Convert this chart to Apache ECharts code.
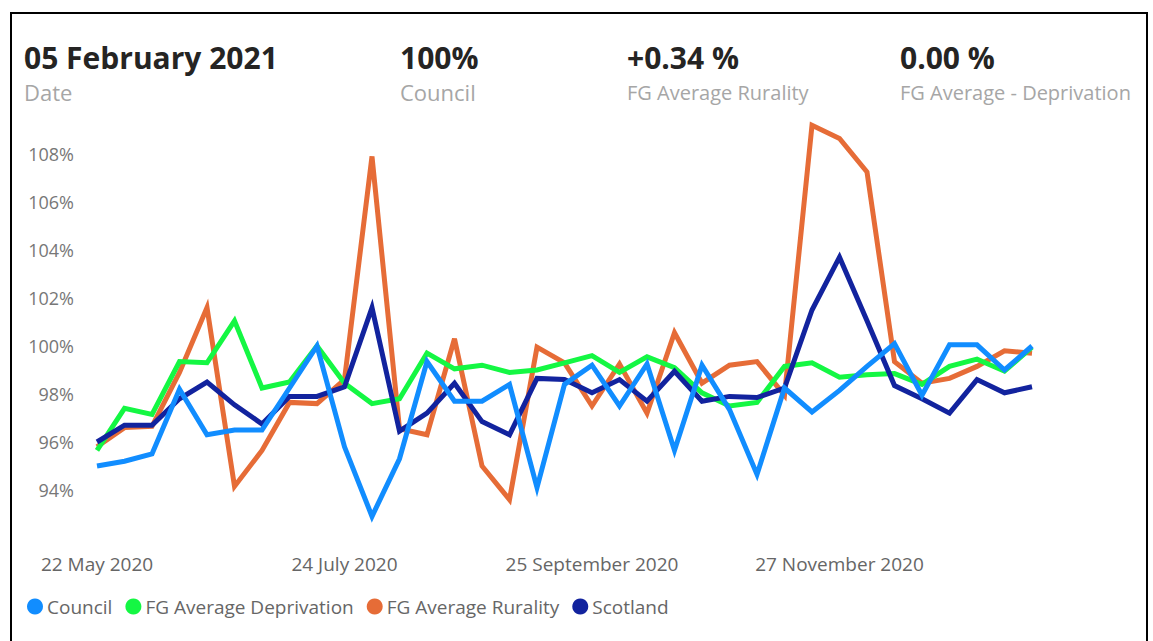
<!DOCTYPE html>
<html>
<head>
<meta charset="utf-8">
<script src="https://cdn.jsdelivr.net/npm/echarts@6/dist/echarts.min.js"></script>
<style>
  html, body { margin: 0; padding: 0; background: #fff; }
  #frame { position: absolute; left: 10px; top: 12px; width: 1134px; height: 640px; border: 2px solid #000; border-bottom: none; }
  #trend { position: absolute; left: 0; top: 0; width: 1153px; height: 641px; }
</style>
</head>
<body>
<div id="frame"></div>
<div id="trend"></div>
<script>
// weekly dates
const weeks = [
  '22 May 2020', '29 May 2020', '05 June 2020', '12 June 2020', '19 June 2020', '26 June 2020',
  '03 July 2020', '10 July 2020', '17 July 2020', '24 July 2020', '31 July 2020',
  '07 August 2020', '14 August 2020', '21 August 2020', '28 August 2020',
  '04 September 2020', '11 September 2020', '18 September 2020', '25 September 2020',
  '02 October 2020', '09 October 2020', '16 October 2020', '23 October 2020', '30 October 2020',
  '06 November 2020', '13 November 2020', '20 November 2020', '27 November 2020',
  '04 December 2020', '11 December 2020', '18 December 2020',
  '15 January 2021', '22 January 2021', '29 January 2021', '05 February 2021'
];

// values in %
const council = [95.0, 95.2, 95.5, 98.2, 96.3, 96.5, 96.5, 98.25, 100.0, 95.8, 92.9, 95.3,
  99.35, 97.7, 97.7, 98.4, 94.1, 98.4, 99.2, 97.5, 99.25, 95.65, 99.2, 97.35, 94.65,
  98.25, 97.25, 98.15, 99.15, 100.1, 97.95, 100.05, 100.05, 99.0, 100.0];
const deprivation = [95.65, 97.4, 97.15, 99.35, 99.3, 101.05, 98.25, 98.5, 100.0, 98.45, 97.6, 97.8,
  99.7, 99.05, 99.2, 98.9, 99.0, 99.3, 99.6, 98.9, 99.55, 99.1, 98.05, 97.5, 97.65,
  99.15, 99.3, 98.7, 98.8, 98.85, 98.4, 99.15, 99.45, 98.95, 99.95];
const rurality = [95.8, 96.6, 96.65, 98.9, 101.6, 94.15, 95.65, 97.65, 97.6, 98.6, 107.9, 96.55,
  96.3, 100.3, 95.0, 93.6, 99.95, 99.3, 97.5, 99.25, 97.2, 100.55, 98.45, 99.2, 99.35,
  97.95, 109.2, 108.65, 107.25, 99.35, 98.45, 98.65, 99.15, 99.8, 99.7];
const scotland = [96.0, 96.7, 96.7, 97.8, 98.5, 97.55, 96.75, 97.9, 97.9, 98.3, 101.6, 96.45,
  97.2, 98.45, 96.85, 96.3, 98.65, 98.6, 98.05, 98.6, 97.7, 98.95, 97.7, 97.9, 97.85,
  98.25, 101.5, 103.7, 101.05, 98.35, 97.8, 97.2, 98.6, 98.05, 98.3];

// header cards
const cards = [
  {value: '05 February 2021', label: 'Date', x: 24, labelSize: 22},
  {value: '100%', label: 'Council', x: 400, labelSize: 22},
  {value: '+0.34 %', label: 'FG Average Rurality', x: 627, labelSize: 20},
  {value: '0.00 %', label: 'FG Average - Deprivation', x: 900, labelSize: 20}
];

const font = '"Open Sans", "Noto Sans", sans-serif';

let headerGraphics = [];
cards.forEach(function (c) {
  headerGraphics.push({
    type: 'text', x: c.x, y: 57,
    style: {text: c.value, fill: '#252423', font: 'bold 30px ' + font, verticalAlign: 'middle'}
  });
  headerGraphics.push({
    type: 'text', x: c.x, y: 92,
    style: {text: c.label, fill: '#a6a6a6', font: c.labelSize + 'px ' + font, verticalAlign: 'middle'}
  });
});

function lineSeries(name, data, color, z) {
  return {
    name: name,
    type: 'line',
    data: data,
    symbol: 'none',
    z: z,
    lineStyle: {color: color, width: 5, join: 'miter'},
    itemStyle: {color: color}
  };
}

let option = {
  animation: false,
  textStyle: {fontFamily: font},
  graphic: headerGraphics,
  tooltip: {trigger: 'axis'},
  legend: {
    left: 22,
    top: 592,
    icon: 'circle',
    itemWidth: 16,
    itemHeight: 16,
    itemGap: 13,
    textStyle: {color: '#666', fontSize: 19, fontFamily: font, padding: [0, 0, 0, -1]},
    data: ['Council', 'FG Average Deprivation', 'FG Average Rurality', 'Scotland']
  },
  grid: {left: 97, right: 121, top: 106, bottom: 103},
  xAxis: {
    type: 'category',
    data: weeks,
    boundaryGap: false,
    axisLine: {show: false},
    axisTick: {show: false},
    axisLabel: {interval: 8, color: '#666', fontSize: 19, margin: 16}
  },
  yAxis: {
    type: 'value',
    min: 92,
    max: 110,
    interval: 2,
    splitLine: {show: false},
    axisLine: {show: false},
    axisTick: {show: false},
    axisLabel: {
      showMinLabel: false,
      showMaxLabel: false,
      color: '#777',
      fontSize: 18,
      margin: 23,
      formatter: function (v) { return v + '%'; }
    }
  },
  series: [
    lineSeries('Council', council, '#118dff', 5),
    lineSeries('FG Average Deprivation', deprivation, '#14f743', 3),
    lineSeries('FG Average Rurality', rurality, '#e66c37', 2),
    lineSeries('Scotland', scotland, '#12239e', 4)
  ]
};

let trendChart = echarts.init(document.getElementById('trend'), null, {renderer: 'svg', width: 1153, height: 641});
trendChart.setOption(option);
</script>
</body>
</html>
